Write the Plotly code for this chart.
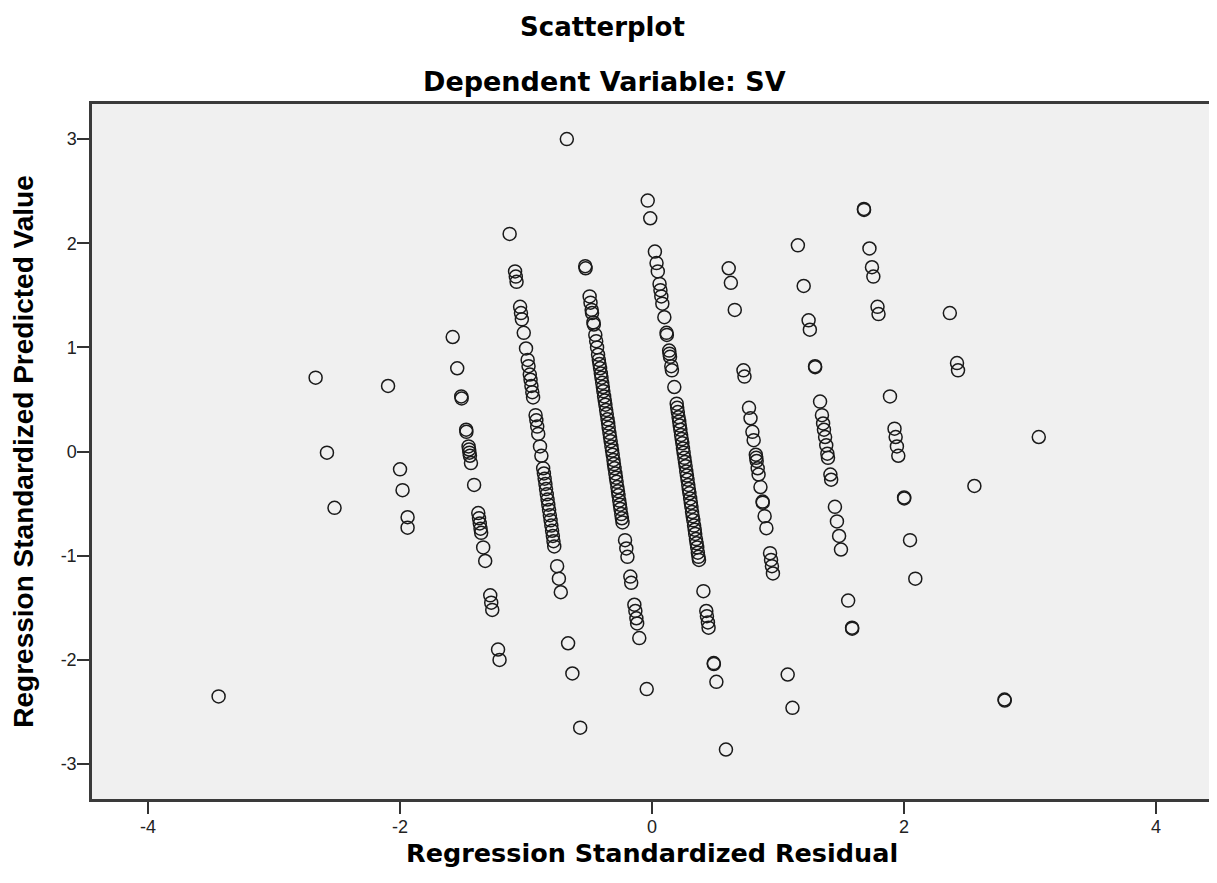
import plotly.graph_objects as go

# Regression Standardized Residual (x) / Regression Standardized Predicted Value (y), grouped by band
band_a_x = [-2.67, -2.58, -2.52, -3.44]
band_a_y = [0.71, -0.01, -0.54, -2.35]

band_b_x = [-2.095, -2.00, -1.98, -1.94, -1.94]
band_b_y = [0.63, -0.17, -0.37, -0.63, -0.73]

band_c_x = [-1.582, -1.546, -1.514, -1.511, -1.475, -1.473, -1.456, -1.452, -1.449, -1.445,
            -1.437, -1.412, -1.379, -1.373, -1.367, -1.361, -1.356, -1.340, -1.324, -1.284,
            -1.276, -1.268, -1.222, -1.210]
band_c_y = [1.10, 0.80, 0.53, 0.51, 0.21, 0.19, 0.05, 0.02, -0.01, -0.04,
            -0.11, -0.32, -0.59, -0.64, -0.69, -0.74, -0.78, -0.92, -1.05, -1.38,
            -1.45, -1.52, -1.90, -2.00]

band_d_x = [-1.130, -1.087, -1.081, -1.075, -1.047, -1.040, -1.033, -1.018, -1.000, -0.987,
            -0.980, -0.970, -0.964, -0.957, -0.950, -0.944, -0.924, -0.918, -0.911, -0.903,
            -0.889, -0.878, -0.864, -0.858, -0.852, -0.846, -0.841, -0.835, -0.829, -0.823,
            -0.817, -0.811, -0.805, -0.799, -0.793, -0.787, -0.782, -0.776, -0.753, -0.739,
            -0.724, -0.666, -0.632, -0.570]
band_d_y = [2.09, 1.73, 1.68, 1.63, 1.39, 1.33, 1.27, 1.14, 0.99, 0.88,
            0.82, 0.74, 0.69, 0.63, 0.57, 0.52, 0.35, 0.30, 0.24, 0.17,
            0.05, -0.04, -0.16, -0.21, -0.26, -0.31, -0.36, -0.41, -0.46, -0.51,
            -0.56, -0.61, -0.66, -0.71, -0.76, -0.81, -0.86, -0.91, -1.10, -1.22,
            -1.35, -1.84, -2.13, -2.65]

band_e_x = [-0.676, -0.530, -0.527, -0.495, -0.488, -0.479, -0.476, -0.465, -0.462, -0.450,
            -0.443, -0.436, -0.428, -0.422, -0.417, -0.412, -0.406, -0.401, -0.395, -0.390,
            -0.386, -0.380, -0.375, -0.370, -0.364, -0.359, -0.353, -0.348, -0.344, -0.338,
            -0.333, -0.328, -0.322, -0.317, -0.312, -0.306, -0.302, -0.297, -0.291, -0.286,
            -0.281, -0.275, -0.270, -0.266, -0.260, -0.255, -0.250, -0.244, -0.239, -0.234,
            -0.214, -0.204, -0.195, -0.172, -0.165, -0.140, -0.132, -0.124, -0.118, -0.101,
            -0.042]
band_e_y = [3.00, 1.78, 1.76, 1.49, 1.43, 1.36, 1.33, 1.24, 1.22, 1.12,
            1.06, 1.00, 0.93, 0.88, 0.84, 0.80, 0.75, 0.71, 0.66, 0.62,
            0.58, 0.53, 0.49, 0.45, 0.40, 0.36, 0.31, 0.27, 0.23, 0.18,
            0.14, 0.10, 0.05, 0.01, -0.03, -0.08, -0.12, -0.16, -0.21, -0.25,
            -0.29, -0.34, -0.38, -0.42, -0.47, -0.51, -0.55, -0.60, -0.64, -0.68,
            -0.85, -0.93, -1.01, -1.20, -1.26, -1.47, -1.53, -1.60, -1.65, -1.79,
            -2.28]

band_f_x = [-0.034, -0.014, 0.023, 0.036, 0.046, 0.060, 0.067, 0.074, 0.082, 0.098,
            0.115, 0.118, 0.136, 0.139, 0.143, 0.153, 0.158, 0.177, 0.196, 0.200,
            0.205, 0.211, 0.216, 0.220, 0.225, 0.231, 0.236, 0.241, 0.246, 0.251,
            0.257, 0.262, 0.267, 0.272, 0.277, 0.282, 0.288, 0.292, 0.297, 0.303,
            0.308, 0.313, 0.318, 0.323, 0.328, 0.334, 0.339, 0.343, 0.349, 0.354,
            0.359, 0.364, 0.369, 0.373, 0.408, 0.431, 0.436, 0.444, 0.449, 0.490,
            0.491, 0.511, 0.587]
band_f_y = [2.41, 2.24, 1.92, 1.81, 1.73, 1.61, 1.55, 1.49, 1.42, 1.29,
            1.14, 1.12, 0.97, 0.94, 0.91, 0.82, 0.78, 0.62, 0.46, 0.42,
            0.38, 0.33, 0.29, 0.25, 0.21, 0.16, 0.12, 0.08, 0.03, -0.01,
            -0.06, -0.10, -0.14, -0.19, -0.23, -0.27, -0.32, -0.36, -0.40, -0.45,
            -0.49, -0.53, -0.58, -0.62, -0.66, -0.71, -0.75, -0.79, -0.84, -0.88,
            -0.92, -0.97, -1.01, -1.04, -1.34, -1.53, -1.58, -1.64, -1.69, -2.03,
            -2.04, -2.21, -2.86]

band_g_x = [0.609, 0.626, 0.657, 0.726, 0.734, 0.770, 0.782, 0.797, 0.807, 0.824,
            0.827, 0.831, 0.839, 0.846, 0.861, 0.878, 0.879, 0.894, 0.908, 0.937,
            0.945, 0.952, 0.960, 1.077, 1.115]
band_g_y = [1.76, 1.62, 1.36, 0.78, 0.72, 0.42, 0.32, 0.19, 0.11, -0.03,
            -0.06, -0.09, -0.16, -0.22, -0.34, -0.48, -0.49, -0.62, -0.735, -0.975,
            -1.04, -1.10, -1.17, -2.14, -2.46]

band_h_x = [1.158, 1.204, 1.243, 1.253, 1.294, 1.295, 1.334, 1.349, 1.358, 1.365,
            1.374, 1.383, 1.392, 1.397, 1.416, 1.422, 1.452, 1.468, 1.485, 1.500,
            1.557, 1.588, 1.589]
band_h_y = [1.98, 1.59, 1.26, 1.17, 0.82, 0.81, 0.48, 0.35, 0.27, 0.21,
            0.14, 0.06, -0.02, -0.06, -0.22, -0.27, -0.53, -0.67, -0.81, -0.94,
            -1.43, -1.69, -1.70]

band_i_x = [1.682, 1.683, 1.726, 1.746, 1.757, 1.790, 1.798, 1.889, 1.925, 1.934,
            1.944, 1.955, 2.001, 2.002, 2.048, 2.090]
band_i_y = [2.33, 2.32, 1.95, 1.77, 1.68, 1.39, 1.32, 0.53, 0.22, 0.14,
            0.05, -0.04, -0.44, -0.45, -0.85, -1.22]

band_j_x = [2.364, 2.421, 2.429, 2.559, 2.798, 2.800, 3.07]
band_j_y = [1.33, 0.85, 0.78, -0.33, -2.38, -2.39, 0.14]

x_ticks = [-4, -2, 0, 2, 4]
x_tick_labels = ["-4", "-2", "0", "2", "4"]
y_ticks = [-3, -2, -1, 0, 1, 2, 3]
y_tick_labels = ["-3", "-2", "-1", "0", "1", "2", "3"]

title_main = "Scatterplot"
title_sub = "Dependent Variable: SV"
x_title = "Regression Standardized Residual"
y_title = "Regression Standardized Predicted Value"

bands_x = [band_a_x, band_b_x, band_c_x, band_d_x, band_e_x, band_f_x, band_g_x, band_h_x, band_i_x, band_j_x]
bands_y = [band_a_y, band_b_y, band_c_y, band_d_y, band_e_y, band_f_y, band_g_y, band_h_y, band_i_y, band_j_y]
xs = [v for b in bands_x for v in b]
ys = [v for b in bands_y for v in b]

fig = go.Figure()
fig.add_trace(go.Scatter(
    x=xs, y=ys, mode="markers",
    marker=dict(symbol="circle-open", size=13, color="#1a1a1a", line=dict(width=1.5)),
    showlegend=False, hoverinfo="x+y",
))

# page body has an 8px margin: the figure is drawn 8px right/down of the window origin
OFF = 8
W, H = 1217 - OFF, 883 - 2 * OFF
L, R, T, B = 92 - OFF, 2, 104 - OFF, 76
plot_h = H - T - B
plot_w = W - L - R

def py(pix):
    # pix: target window y-pixel
    return (OFF + H - B - pix) / plot_h

def px(pix):
    return (pix - OFF - L) / plot_w

axis_common = dict(
    showgrid=False, zeroline=False, showline=True, linecolor="#3a3a3a", linewidth=2.5,
    mirror=True, ticks="outside", ticklen=12, tickwidth=2, tickcolor="#333333",
    tickfont=dict(family="Liberation Sans, Arial, sans-serif", size=18, color="#222222"),
)

fig.update_xaxes(range=[-4.445, 4.445], tickvals=x_ticks, ticktext=x_tick_labels,
                 ticklabelstandoff=-2, **axis_common)
fig.update_yaxes(range=[-3.335, 3.337], tickvals=y_ticks, ticktext=y_tick_labels,
                 ticklabelstandoff=-3, **axis_common)

def bold(size, family="DejaVu Sans, sans-serif"):
    return dict(family=family, size=size, color="#000000", weight="bold")

fig.add_annotation(text=title_main, xref="paper", yref="paper", x=px(604), y=py(27),
                   showarrow=False, xanchor="center", yanchor="middle", font=bold(26))
fig.add_annotation(text=title_sub, xref="paper", yref="paper", x=px(606), y=py(81),
                   showarrow=False, xanchor="center", yanchor="middle", font=bold(27))
fig.add_annotation(text=x_title, xref="paper", yref="paper", x=0.5, y=py(853),
                   showarrow=False, xanchor="center", yanchor="middle", font=bold(25.5))
fig.add_annotation(text=y_title, xref="paper", yref="paper", x=px(23), y=0.5, textangle=-90,
                   showarrow=False, xanchor="center", yanchor="middle",
                   font=bold(28, "Liberation Sans, Arial, sans-serif"))

fig.update_layout(
    width=W, height=H,
    margin=dict(l=L, r=R, t=T, b=B),
    paper_bgcolor="white", plot_bgcolor="#F0F0F0",
)

fig.write_html("out.html")
